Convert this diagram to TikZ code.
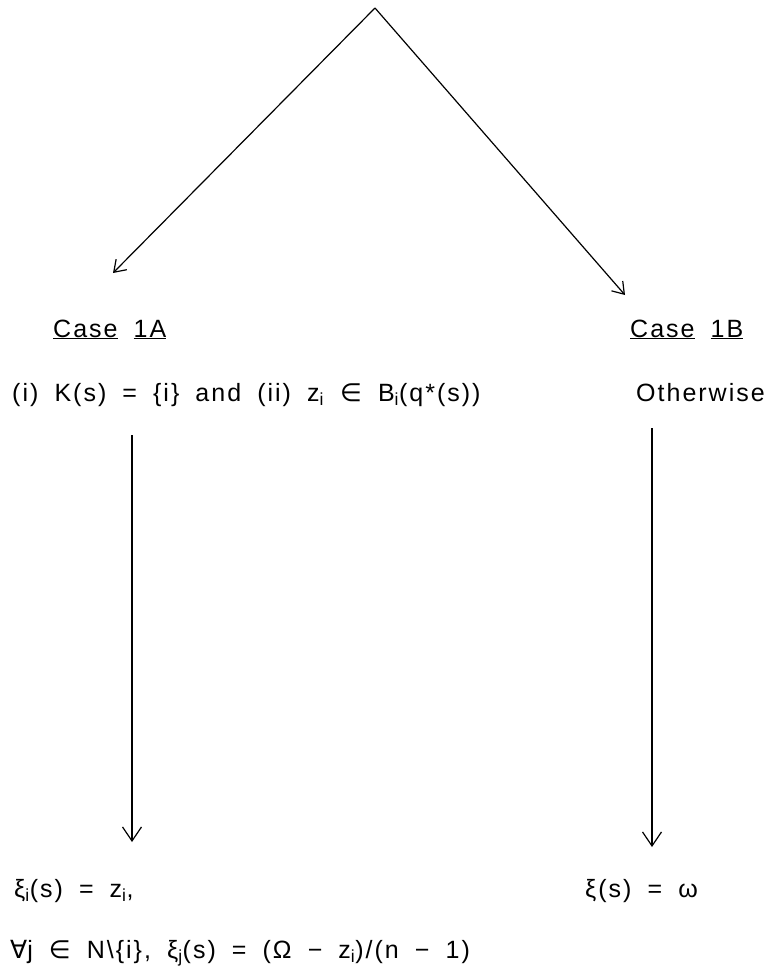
\documentclass[tikz,border=0pt]{standalone}
\usepackage{fontspec}
\setmainfont{Liberation Sans}[LetterSpace=8, WordSpace=1.8]
\newfontfamily\symfont{DejaVu Sans}
\usetikzlibrary{arrows.meta}
\newcommand\lo[1]{\textsubscript{#1}}
\newcommand\sy[1]{{\symfont #1}}
\tikzset{
  lbl/.style={anchor=base west, inner sep=0pt, font=\fontsize{25}{29}\selectfont},
  flow/.style={line width=1.2pt, -{Straight Barb[length=14pt,width=19pt,line width=1.2pt]}},
  slant/.style={line width=1.2pt, -{Straight Barb[length=11pt,width=15pt,line width=1.2pt]}}
}
\begin{document}
\begin{tikzpicture}[x=1pt,y=-1pt]
  \useasboundingbox (0,0) rectangle (766,975);
  % branching point and arrow ends
  \coordinate (top) at (375,8);
  \coordinate (tipA) at (113,273);
  \coordinate (tipB) at (625,295);
  % case headings
  \node[lbl] (caseA) at (53,337) {\underline{Case} \underline{1A}};
  \node[lbl] (caseB) at (630,337) {\underline{Case} \underline{1B}};
  % conditions
  \node[lbl] (condA) at (12,401) {(i) K(s) = \{i\} and (ii) z\lo{i} \sy{∈} B\lo{i}(q*(s))};
  \node[lbl] (condB) at (636,401) {Otherwise};
  % results
  \node[lbl] (resA) at (14,897) {ξ\lo{i}(s) = z\lo{i},};
  \node[lbl] (resB) at (585,897) {ξ(s) = ω};
  \node[lbl] (resA2) at (10,958) {\sy{∀}j \sy{∈} N\textbackslash\{i\}, ξ\lo{j}(s) = (Ω − z\lo{i})/(n − 1)};
  % vertical arrow ends
  \coordinate (sA) at (132,435);
  \coordinate (eA) at (132,842);
  \coordinate (sB) at (652,428);
  \coordinate (eB) at (652,847);
  % connectors
  \draw[slant] (top) -- (tipA);
  \draw[slant] (top) -- (tipB);
  \draw[flow] (sA) -- (eA);
  \draw[flow] (sB) -- (eB);
\end{tikzpicture}
\end{document}
